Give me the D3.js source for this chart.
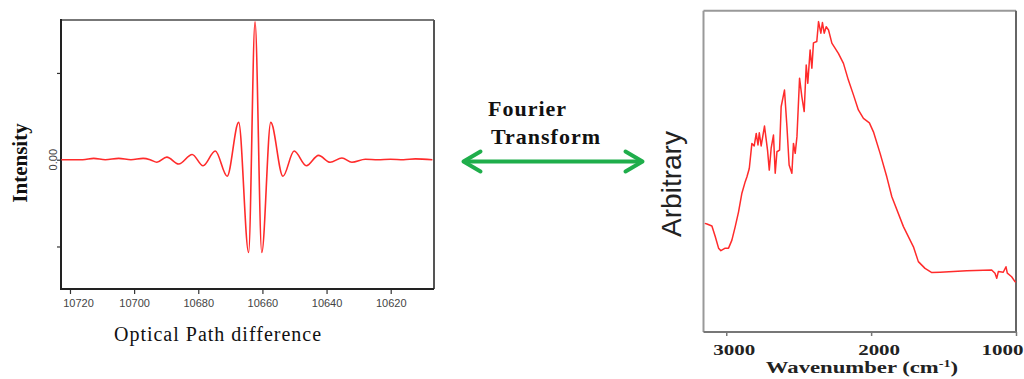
<!DOCTYPE html>
<html>
<head>
<meta charset="utf-8">
<script src="https://cdn.jsdelivr.net/npm/d3@7"></script>
<style>
  body { margin: 0; background: #fff; }
  svg { display: block; }
</style>
</head>
<body>
<svg id="fig" width="1024" height="379"></svg>
<script>
// Interferogram: intensity against optical path difference
const opd = [10722.7, 10716, 10712.6, 10709, 10704.8, 10701, 10697.2, 10695, 10692.9, 10689.8,
  10686.1, 10681.9, 10678.5, 10674.7, 10671.0, 10667.4, 10664.3, 10662.3, 10660.2, 10657.4,
  10653.6, 10650.1, 10646.3, 10642.5, 10638.9, 10635.2, 10632.1, 10627.9, 10624, 10620.1,
  10616, 10612.3, 10607.0];
const intensity = [0, 0, 0.015, 0, 0.015, 0, 0.015, 0, -0.03, 0.03,
  -0.05, 0.06, -0.07, 0.10, -0.19, 0.43, -1.07, 1.59, -1.07, 0.43,
  -0.19, 0.10, -0.07, 0.05, -0.03, 0.02, -0.03, 0.005, 0, 0.005,
  0, 0.01, 0];
const opdTicks = [10720, 10700, 10680, 10660, 10640, 10620];
const intensityTicks = [-1, 0, 1];

// Spectrum: arbitrary units against wavenumber (cm-1)
const wavenumber = [3148, 3133, 3099, 3076, 3053, 3037, 3007, 2984, 2961, 2938,
  2915, 2892, 2869, 2857, 2841, 2823, 2807, 2793, 2781, 2772,
  2759, 2736, 2715, 2703, 2690, 2674, 2662, 2650, 2632, 2621,
  2598, 2581, 2566, 2547, 2536, 2524, 2512, 2494, 2478, 2462,
  2448, 2437, 2421, 2409, 2398, 2375, 2363, 2347, 2336, 2324,
  2310, 2294, 2271, 2248, 2226, 2191, 2157, 2122, 2088, 2053,
  2012, 1984, 1938, 1892, 1857, 1777, 1708, 1674, 1628, 1581,
  1524, 1340, 1168, 1145, 1133, 1122, 1088, 1069, 1060, 1030,
  1007, 1001];
const arbitrary = [33.8, 33.6, 33.0, 29.7, 26.1, 25.3, 26.1, 26.1, 28.6, 32.8,
  37.4, 43.2, 46.8, 48.3, 50.9, 58.7, 57.9, 61.8, 58.2, 62.0,
  57.9, 64.1, 56.6, 50.4, 57.2, 61.3, 49.4, 56.1, 56.6, 70.1,
  75.3, 63.9, 52.0, 49.4, 58.7, 55.6, 60.8, 79.0, 73.2, 68.6,
  83.1, 77.4, 87.8, 82.1, 90.0, 90.4, 96.6, 93.0, 96.3, 93.0,
  95.0, 94.0, 89.9, 88.3, 86.7, 83.6, 78.4, 73.8, 69.1, 66.5,
  65.1, 62.3, 55.6, 48.3, 42.1, 32.8, 26.5, 21.9, 19.8, 18.5,
  18.6, 19.1, 19.3, 18.3, 16.7, 18.8, 18.6, 20.3, 18.3, 17.2,
  15.7, 15.5];
const wavenumberTicks = [3000, 2000, 1000];

const svg = d3.select("#fig");
const RED = "#ff2b2b";

// ---------- left panel: interferogram ----------
const L = { left: 61, right: 434, top: 20, bottom: 289 };
const xL = d3.scaleLinear().domain([10722.8, 10606.5]).range([L.left, L.right]);
const yL = d3.scaleLinear().domain([-1.49, 1.61]).range([L.bottom, L.top]);

const gL = svg.append("g");

const xAxisL = d3.axisBottom(xL).tickValues(opdTicks).tickSize(5).tickPadding(5)
  .tickFormat(d3.format("d"));
gL.append("g").attr("transform", `translate(0,${L.bottom})`).call(xAxisL)
  .call(g => g.select(".domain").remove())
  .call(g => g.selectAll("line").attr("stroke", "#333").attr("stroke-width", 1.2))
  .call(g => g.selectAll("text").attr("fill", "#444")
    .style("font", "11px 'Liberation Sans', Arial, sans-serif")
    .attr("dx", (d, i) => i === 0 ? 8 : 0));

const yAxisL = d3.axisLeft(yL).tickValues(intensityTicks).tickSize(4).tickFormat("");
gL.append("g").attr("transform", `translate(${L.left},0)`).call(yAxisL)
  .call(g => g.select(".domain").remove())
  .call(g => g.selectAll("line").attr("stroke", "#333").attr("stroke-width", 1.2));

gL.selectAll("text.ylab").data(intensityTicks.filter(d => d === 0)).join("text")
  .attr("class", "ylab")
  .attr("transform", d => `translate(57,${yL(d)}) rotate(-90)`)
  .attr("text-anchor", "middle")
  .attr("fill", "#444")
  .style("font", "11px 'Liberation Sans', Arial, sans-serif")
  .text(d3.format(".2f"));

// frame
gL.append("line").attr("x1", L.left).attr("x2", L.right).attr("y1", L.top).attr("y2", L.top)
  .attr("stroke", "#777").attr("stroke-width", 2);
gL.append("line").attr("x1", L.right).attr("x2", L.right).attr("y1", L.top).attr("y2", L.bottom)
  .attr("stroke", "#555").attr("stroke-width", 2);
gL.append("line").attr("x1", L.left).attr("x2", L.left).attr("y1", L.top - 1).attr("y2", L.bottom + 1)
  .attr("stroke", "#222").attr("stroke-width", 2);
gL.append("line").attr("x1", L.left).attr("x2", L.right).attr("y1", L.bottom).attr("y2", L.bottom)
  .attr("stroke", "#222").attr("stroke-width", 2);

const lineL = d3.line().x((d, i) => xL(opd[i])).y((d, i) => yL(intensity[i]))
  .curve(d3.curveMonotoneX);
gL.append("path").attr("d", lineL(opd)).attr("fill", "none")
  .attr("stroke", RED).attr("stroke-width", 1.6).attr("stroke-linejoin", "round");

gL.append("text")
  .attr("transform", "translate(27,163) rotate(-90)")
  .attr("text-anchor", "middle")
  .style("font", "bold 21px 'Liberation Serif', 'Times New Roman', serif")
  .attr("fill", "#111")
  .text("Intensity");

gL.append("text")
  .attr("x", 218).attr("y", 341)
  .attr("text-anchor", "middle")
  .style("font", "20px 'Liberation Serif', 'Times New Roman', serif")
  .style("letter-spacing", "1px")
  .attr("fill", "#111")
  .text("Optical Path difference");

// ---------- centre: transform arrow ----------
const gA = svg.append("g");
gA.append("text").attr("x", 488).attr("y", 116)
  .style("font", "bold 22px 'Liberation Serif', 'Times New Roman', serif")
  .style("letter-spacing", "1px").attr("fill", "#111").text("Fourier");
gA.append("text").attr("x", 491).attr("y", 144)
  .style("font", "bold 22px 'Liberation Serif', 'Times New Roman', serif")
  .style("letter-spacing", "1px").attr("fill", "#111").text("Transform");

const GREEN = "#1fae4b";
const ay = 161.5, ax1 = 463.5, ax2 = 642.5;
gA.append("line").attr("x1", ax1 + 2).attr("x2", ax2 - 2).attr("y1", ay).attr("y2", ay)
  .attr("stroke", GREEN).attr("stroke-width", 4);
gA.append("path")
  .attr("d", `M${ax1 + 17},${ay - 10} L${ax1},${ay} L${ax1 + 17},${ay + 10}`)
  .attr("fill", "none").attr("stroke", GREEN).attr("stroke-width", 4)
  .attr("stroke-linecap", "round").attr("stroke-linejoin", "round");
gA.append("path")
  .attr("d", `M${ax2 - 17},${ay - 10} L${ax2},${ay} L${ax2 - 17},${ay + 10}`)
  .attr("fill", "none").attr("stroke", GREEN).attr("stroke-width", 4)
  .attr("stroke-linecap", "round").attr("stroke-linejoin", "round");

// ---------- right panel: spectrum ----------
const R = { left: 703.5, right: 1016, top: 10.7, bottom: 332 };
const xR = d3.scaleLinear().domain([3157, 1000]).range([R.left, R.right]);
const yR = d3.scaleLinear().domain([0, 100]).range([R.bottom, R.top]);

const gR = svg.append("g");
gR.append("line").attr("x1", R.left).attr("x2", R.right).attr("y1", R.top).attr("y2", R.top)
  .attr("stroke", "#999").attr("stroke-width", 2);
gR.append("line").attr("x1", R.left).attr("x2", R.left).attr("y1", R.top).attr("y2", R.bottom)
  .attr("stroke", "#999").attr("stroke-width", 2);
gR.append("line").attr("x1", R.right).attr("x2", R.right).attr("y1", R.top).attr("y2", R.bottom)
  .attr("stroke", "#666").attr("stroke-width", 2);
gR.append("line").attr("x1", R.left).attr("x2", R.right).attr("y1", R.bottom).attr("y2", R.bottom)
  .attr("stroke", "#777").attr("stroke-width", 2);

const xAxisR = d3.axisBottom(xR).tickValues(wavenumberTicks).tickSize(4).tickFormat("");
gR.append("g").attr("transform", `translate(0,${R.bottom})`).call(xAxisR)
  .call(g => g.select(".domain").remove())
  .call(g => g.selectAll("line").attr("stroke", "#777").attr("stroke-width", 1.5));

// tick labels, wide bold serif, kept inside the page on the right
const labelW = 43;
gR.selectAll("text.xlab").data(wavenumberTicks).join("text")
  .attr("class", "xlab")
  .attr("transform", d => {
    const cx = Math.min(xR(d) + 8, 1024 - labelW / 2);
    return `translate(${cx},355) scale(1.4,1)`;
  })
  .attr("text-anchor", "middle")
  .style("font", "bold 15px 'Liberation Serif', 'Times New Roman', serif")
  .attr("fill", "#222")
  .text(d => d);

const titleR = gR.append("text")
  .attr("transform", "translate(862,373) scale(1.42,1)")
  .attr("text-anchor", "middle")
  .style("font", "16px 'Liberation Serif', 'Times New Roman', serif")
  .style("font-weight", "600")
  .attr("fill", "#222");
titleR.append("tspan").text("Wavenumber (cm");
titleR.append("tspan").attr("dy", -6).style("font-size", "10px").text("-1");
titleR.append("tspan").attr("dy", 6).text(")");

gR.append("text")
  .attr("transform", "translate(681,184) rotate(-90)")
  .attr("text-anchor", "middle")
  .style("font", "28px 'Liberation Sans', Arial, sans-serif")
  .attr("fill", "#222")
  .text("Arbitrary");

const lineR = d3.line().x((d, i) => xR(wavenumber[i])).y((d, i) => yR(arbitrary[i]));
gR.append("path").attr("d", lineR(wavenumber)).attr("fill", "none")
  .attr("stroke", RED).attr("stroke-width", 1.5).attr("stroke-linejoin", "round");
</script>
</body>
</html>
